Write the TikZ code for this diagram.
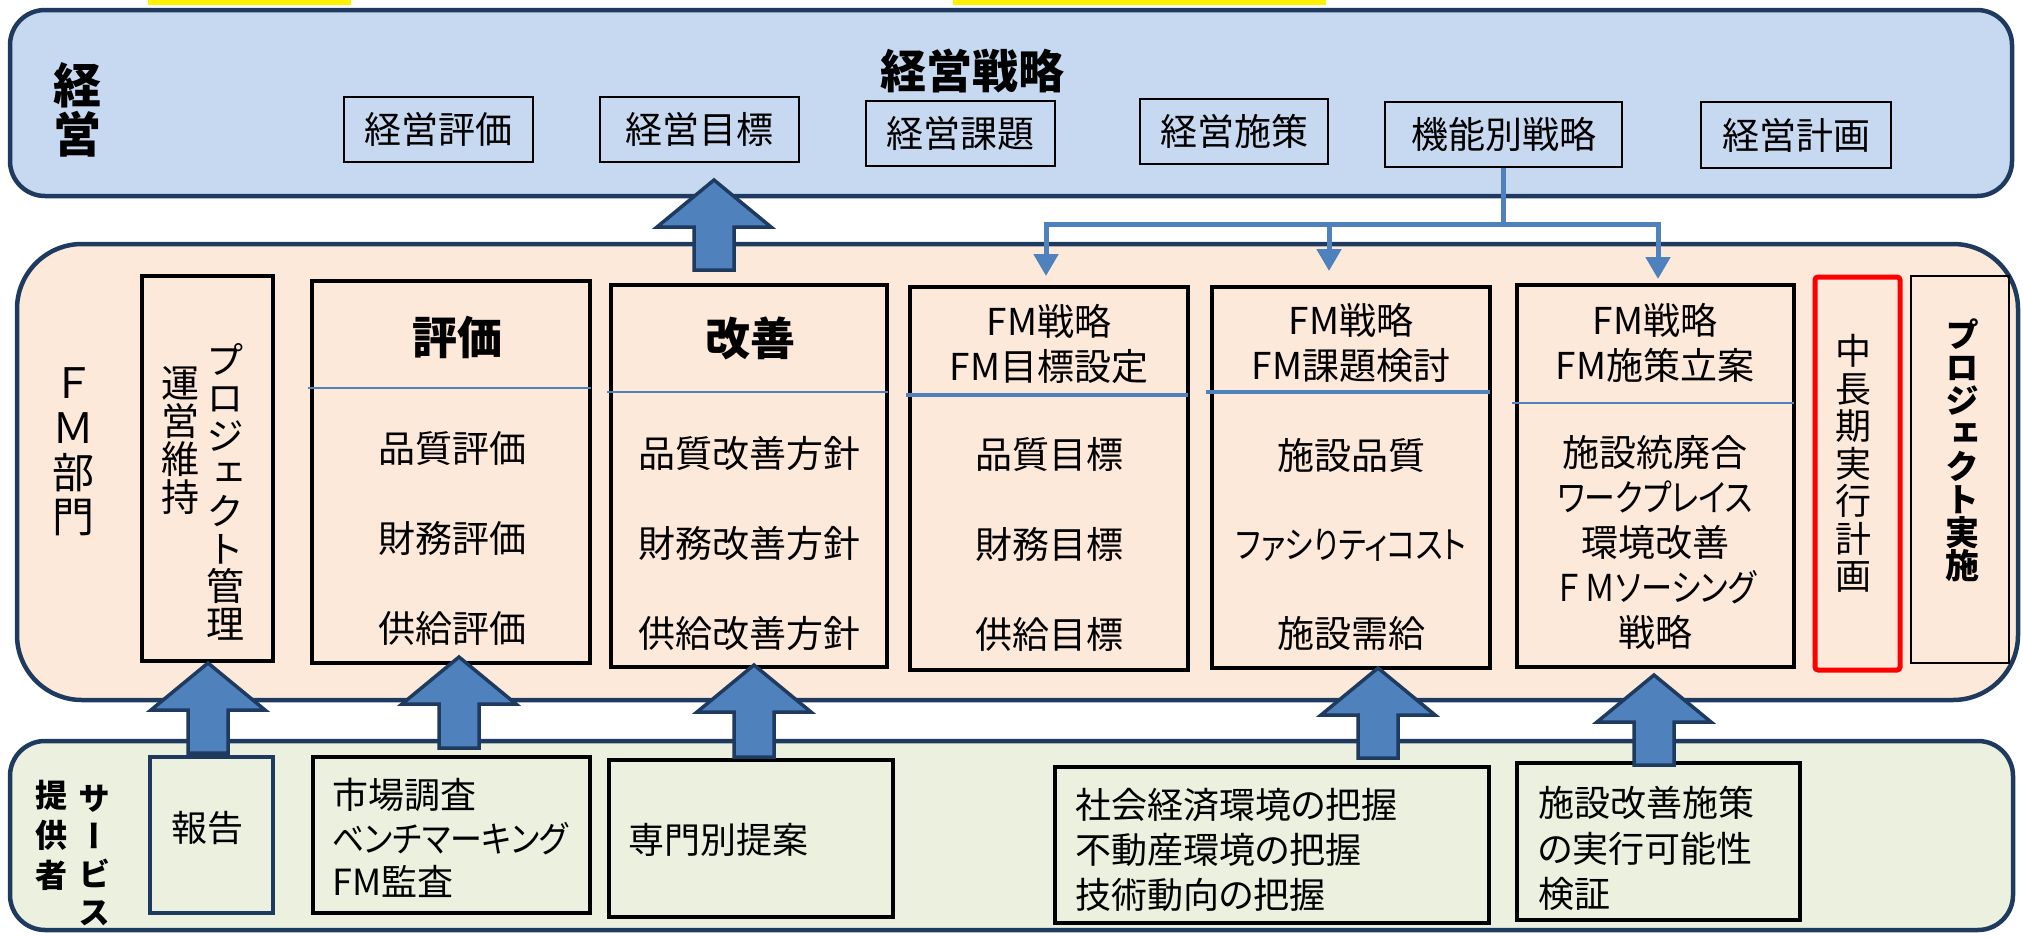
\documentclass[tikz,border=0pt]{standalone}
\usepackage{fontspec}
\usepackage{graphicx}
\setmainfont[RawFeature=+palt]{Noto Sans CJK JP}
\newfontfamily\vfont[RawFeature=+vert]{Noto Sans CJK JP}
\newfontfamily\plainjp{Noto Sans CJK JP}
\usetikzlibrary{arrows.meta,calc}
\definecolor{navy}{HTML}{1F3A5F}
\definecolor{topfill}{HTML}{C6D9F1}
\definecolor{fmfill}{HTML}{FDE9D9}
\definecolor{botfill}{HTML}{EBF1DE}
\definecolor{arrblue}{HTML}{4F81BD}
\newcommand\fs[2]{\fontsize{#1}{#2}\selectfont\lineskiplimit=-100pt\lineskip=0pt}
\newcommand\vfs[2]{\vfont\fontsize{#1}{#2}\selectfont\lineskiplimit=-100pt\lineskip=0pt}
\newcommand\fitw[2]{\resizebox{#1pt}{\height}{#2}}
\newcommand\blockup[2]{%
  \draw[blk] let \p1=(#1), \p2=(#2) in
  (\x1-20pt,\y1) -- (\x1-20pt,\y2-47pt) -- (\x1-57pt,\y2-47pt) -- (\x1,\y2)
  -- (\x1+57pt,\y2-47pt) -- (\x1+20pt,\y2-47pt) -- (\x1+20pt,\y1) -- cycle;}
\tikzset{
  panel/.style={draw=navy, line width=4.5pt},
  box/.style={draw=black, line width=3.5pt, inner sep=0pt},
  topbox/.style={draw=black, line width=2pt, inner sep=0pt, font=\fs{37}{37}},
  botbox/.style={draw=black, line width=3.5pt, inner sep=0pt},
  divider/.style={draw=arrblue, line width=2.5pt},
  conn/.style={draw=arrblue, line width=5pt, line join=miter},
  blk/.style={fill=arrblue, draw=navy, line width=3.5pt, line join=miter},
  txt/.style={inner sep=0pt, align=center},
  ltxt/.style={inner sep=0pt, align=left, anchor=west},
  tip/.style={-{Triangle[length=22pt,width=24pt]}},
}
\begin{document}
\begin{tikzpicture}[x=1pt,y=-1pt]
\useasboundingbox (0,0) rectangle (2023,937);
% yellow marks
\fill[yellow] (148,0) rectangle (351,5);
\fill[yellow] (953,0) rectangle (1326,5);
% panels
\path[panel, fill=topfill, rounded corners=35pt] (10,10) rectangle (2012,196);
\path[panel, fill=fmfill, rounded corners=65pt] (17,244) rectangle (2018,700);
\path[panel, fill=botfill, rounded corners=35pt] (10,741) rectangle (2013,930);
% top panel
\node[txt, font=\vfs{48}{49}\bfseries] (keiei) at (77,110) {経\\営};
\node[txt, font=\fs{46}{46}\bfseries] (senryaku) at (972,71) {経営戦略};
\node[topbox, minimum width=189pt, minimum height=65pt] (tHyoka) at (438.5,129.5) {経営評価};
\node[topbox, minimum width=199pt, minimum height=65pt] (tMoku) at (699.5,129.5) {経営目標};
\node[topbox, minimum width=189pt, minimum height=65pt] (tKadai) at (960.5,133.5) {経営課題};
\node[topbox, minimum width=188pt, minimum height=65pt] (tShisaku) at (1234,131.5) {経営施策};
\node[topbox, minimum width=237pt, minimum height=65pt] (tKinou) at (1503.5,134.5) {機能別戦略};
\node[topbox, minimum width=190pt, minimum height=66pt] (tKeikaku) at (1796,135) {経営計画};
% FM panel
\node[txt, font=\vfs{42}{44.7}] (fmbumon) at (73,452) {Ｆ\\Ｍ\\部\\門};
\node[box, minimum width=131pt, minimum height=385pt] (proj) at (207.5,468.5) {};
\node[txt, font=\vfs{38}{37.7}] (projA) at (225,492) {プ\\ロ\\ジ\\ェ\\ク\\ト\\管\\理};
\node[txt, font=\vfs{38}{38}] (projB) at (180,441) {運\\営\\維\\持};
\node[box, minimum width=278pt, minimum height=382pt] (hyouka) at (451,472) {};
\node[box, minimum width=276pt, minimum height=382pt] (kaizen) at (749,476) {};
\node[box, minimum width=278pt, minimum height=383pt] (mokuhyo) at (1049,478.5) {};
\node[box, minimum width=278pt, minimum height=381pt] (kadai) at (1351,477.5) {};
\node[box, minimum width=277pt, minimum height=382pt] (shisaku) at (1655.5,476) {};
\node[draw=red, line width=5pt, rounded corners=3pt, minimum width=85pt, minimum height=393pt, inner sep=0pt] (chouki) at (1857.5,473.5) {};
\node[txt, font=\vfs{36}{37.5}] (choukiT) at (1853,463.5) {中\\長\\期\\実\\行\\計\\画};
\node[draw=black, line width=2.5pt, minimum width=98pt, minimum height=387pt, inner sep=0pt] (jisshi) at (1960,469.5) {};
\node[txt, font=\vfs{34}{33}\bfseries] (jisshiT) at (1962,450) {プ\\ロ\\ジ\\ェ\\ク\\ト\\実\\施};
% dividers
\draw[divider] (308,388) -- (591,388);
\draw[divider] (607,392) -- (888,392);
\draw[divider, line width=4pt] (906,395) -- (1188,395);
\draw[divider, line width=4pt] (1206,392) -- (1490,392);
\draw[divider] (1512,403) -- (1794,403);
% headers
\node[txt, font=\fs{45}{45}\bfseries] (hyoukaH) at (457,337) {評価};
\node[txt, font=\fs{45}{45}\bfseries] (kaizenH) at (750,338) {改善};
\node[txt, font=\fs{37}{45}] (mokuhyoH) at (1049,343.5) {FM戦略\\FM目標設定};
\node[txt, font=\fs{37}{45}] (kadaiH) at (1351,343) {FM戦略\\FM課題検討};
\node[txt, font=\fs{37}{45}] (shisakuH) at (1655,343) {FM戦略\\FM施策立案};
% items
\node[txt, font=\fs{37}{90}] (hyoukaI) at (452,539) {品質評価\\財務評価\\供給評価};
\node[txt, font=\fs{37}{90}] (kaizenI) at (749,543) {品質改善方針\\財務改善方針\\供給改善方針};
\node[txt, font=\fs{37}{90}] (mokuhyoI) at (1049,544) {品質目標\\財務目標\\供給目標};
\node[txt, font=\fs{37}{89}] (kadaiI) at (1351,544) {施設品質\\\fitw{231}{ファシりティコスト}\\施設需給};
\node[txt, font=\fs{37}{45}] (shisakuI) at (1655,542.5) {施設統廃合\\\fitw{195}{ワークプレイス}\\環境改善\\\fitw{203}{{\plainjp ＦＭ}ソーシング}\\戦略};
% bottom panel
\node[txt, font=\vfs{32}{40}\bfseries] (teikyo) at (51,835) {提\\供\\者};
\node[txt, font=\vfs{32}{38}\bfseries] (service) at (94,855) {サ\\ー\\ビ\\ス};
\node[botbox, draw=navy, line width=4.5pt, minimum width=123pt, minimum height=156pt] (houkoku) at (211.5,835) {};
\node[txt, font=\fs{36}{36}] (houkokuT) at (207,828) {報告};
\node[botbox, minimum width=277pt, minimum height=156pt] (shijo) at (451.5,835) {};
\node[ltxt, font=\fs{36}{43.5}] (shijoT) at (332,838) {市場調査\\\fitw{236}{ベンチマーキング}\\FM監査};
\node[botbox, minimum width=284pt, minimum height=157pt] (senmon) at (751,838.5) {};
\node[ltxt, font=\fs{36}{36}] (senmonT) at (628,840) {専門別提案};
\node[botbox, minimum width=434pt, minimum height=156pt] (shakai) at (1272,845) {};
\node[ltxt, font=\fs{36}{45}] (shakaiT) at (1075,850) {社会経済環境の把握\\不動産環境の把握\\技術動向の把握};
\node[botbox, minimum width=283pt, minimum height=157pt] (shisetsu) at (1658.5,841.5) {};
\node[ltxt, font=\fs{36}{45.5}] (shisetsuT) at (1538,848.5) {施設改善施策\\の実行可能性\\検証};
% connectors from 機能別戦略
\coordinate (jn) at (1503.5,224.5);
\coordinate (jm) at (1329,224.5);
\coordinate (aL) at (1046,276);
\coordinate (aM) at (1329,271);
\coordinate (aR) at (1658,279);
\draw[conn] (tKinou.south) -- (jn);
\draw[conn, tip] (jn) -| (aL);
\draw[conn, tip] (jn) -| (aR);
\draw[conn, tip] (jm) -- (aM);
% block arrows
\coordinate (b0) at (714,270); \coordinate (t0) at (714,180);
\coordinate (b1) at (208,753); \coordinate (t1) at (208,663);
\coordinate (b2) at (459,748); \coordinate (t2) at (459,657);
\coordinate (b3) at (754,757); \coordinate (t3) at (754,665);
\coordinate (b4) at (1378,758); \coordinate (t4) at (1378,668);
\coordinate (b5) at (1654,765); \coordinate (t5) at (1654,675);
\blockup{b0}{t0}
\blockup{b1}{t1}
\blockup{b2}{t2}
\blockup{b3}{t3}
\blockup{b4}{t4}
\blockup{b5}{t5}
\end{tikzpicture}
\end{document}
